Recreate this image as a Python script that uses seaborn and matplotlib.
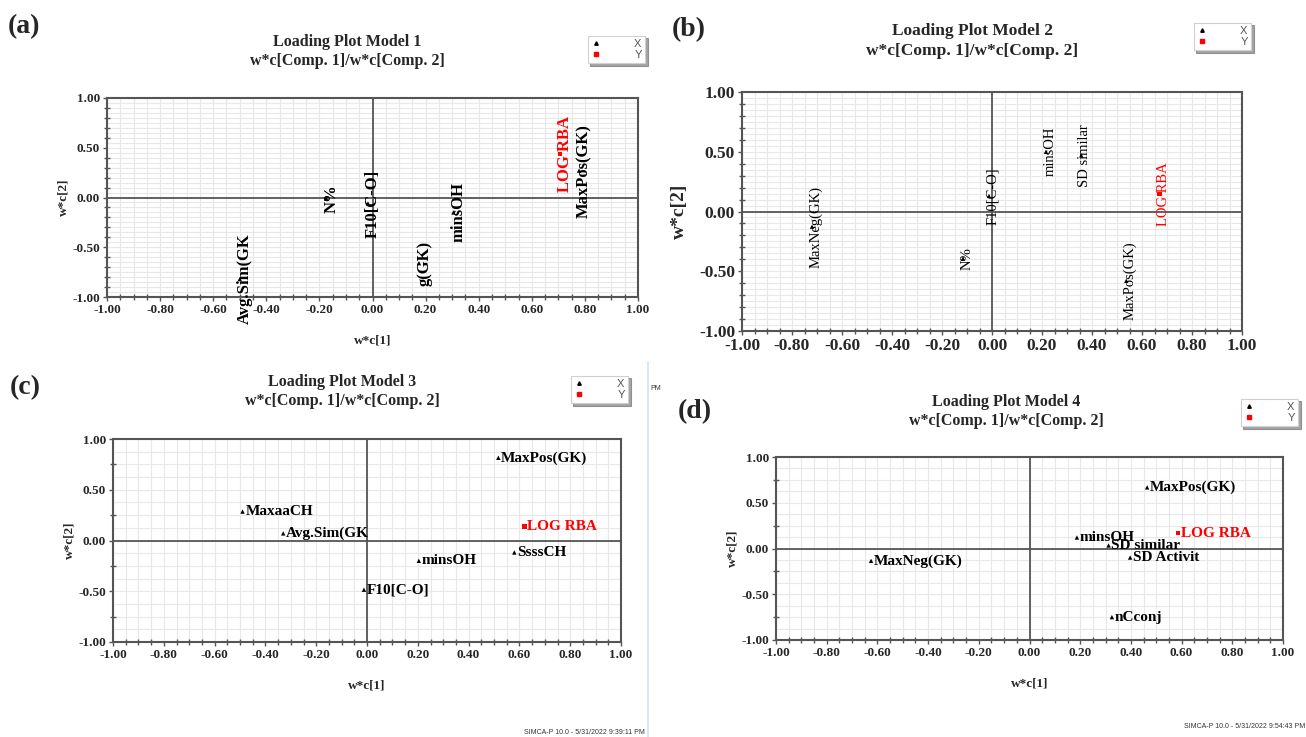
import matplotlib
matplotlib.use("Agg")
import pandas as pd
import matplotlib.pyplot as plt
import seaborn as sns
from matplotlib.lines import Line2D
from matplotlib.ticker import MultipleLocator

# Model 1
m1_names = ['Avg.Sim(GK', 'N%', 'F10[C-O]', 'g(GK)', 'minsOH', 'MaxPos(GK)', 'LOG RBA']
m1_x = [-0.50, -0.175, -0.017, 0.175, 0.305, 0.778, 0.706]
m1_y = [-0.82, -0.01, -0.06, -0.66, -0.15, 0.27, 0.44]
m1_kind = ['X', 'X', 'X', 'X', 'X', 'X', 'Y']

# Model 2
m2_names = ['MaxNeg(GK)', 'N%', 'F10[C-O]', 'minsOH', 'SD similar', 'MaxPos(GK)', 'LOG RBA']
m2_x = [-0.72, -0.116, -0.012, 0.216, 0.357, 0.537, 0.67]
m2_y = [-0.127, -0.395, 0.13, 0.50, 0.47, -0.58, 0.144]
m2_kind = ['X', 'X', 'X', 'X', 'X', 'X', 'Y']

# Model 3
m3_names = ['MaxPos(GK)', 'MaxaaCH', 'Avg.Sim(GK', 'minsOH', 'SsssCH', 'F10[C-O]', 'LOG RBA']
m3_x = [0.517, -0.49, -0.33, 0.204, 0.58, -0.012, 0.62]
m3_y = [0.815, 0.285, 0.07, -0.20, -0.118, -0.485, 0.137]
m3_kind = ['X', 'X', 'X', 'X', 'X', 'X', 'Y']

# Model 4
m4_names = ['MaxPos(GK)', 'minsOH', 'SD similar', 'SD Activit', 'MaxNeg(GK)', 'nCconj', 'LOG RBA']
m4_x = [0.464, 0.187, 0.312, 0.397, -0.625, 0.325, 0.586]
m4_y = [0.668, 0.12, 0.033, -0.099, -0.135, -0.75, 0.168]
m4_kind = ['X', 'X', 'X', 'X', 'X', 'X', 'Y']

W, H = 1306, 737
sns.set_style('white')
plt.rcParams['font.family'] = ['Liberation Serif', 'DejaVu Serif']

fig = plt.figure(figsize=(W / 100, H / 100), dpi=100)


def px_rect(x0, x1, ytop, ybot):
    return [x0 / W, 1 - ybot / H, (x1 - x0) / W, (ybot - ytop) / H]


def draw_panel(rect, names, xs, ys, kinds, rotated, tick_fs, lab_fs, txt_fs,
               txt_weight, ygrid, yminor, xlabel=True, ypad=2):
    ax = fig.add_axes(rect)
    df = pd.DataFrame({'x': xs, 'y': ys, 'kind': kinds, 'name': names})
    ax.set_xlim(-1, 1)
    ax.set_ylim(-1, 1)
    ax.xaxis.set_minor_locator(MultipleLocator(0.05))
    ax.yaxis.set_minor_locator(MultipleLocator(yminor))
    ax.set_xticks([-1 + 0.2 * i for i in range(11)])
    ax.set_yticks([-1, -0.5, 0, 0.5, 1])
    ax.set_xticklabels(['%.2f' % (-1 + 0.2 * i) for i in range(11)])
    ax.set_yticklabels(['-1.00', '-0.50', '0.00', '0.50', '1.00'])
    for v in [-1 + 0.05 * i for i in range(41)]:
        ax.axvline(v, color='#e8e8e8', lw=0.8, zorder=0)
    n = int(round(2 / ygrid))
    for i in range(n + 1):
        ax.axhline(-1 + ygrid * i, color='#e8e8e8', lw=0.8, zorder=0)
    ax.axhline(0, color='#555555', lw=1.3, zorder=1)
    ax.axvline(0, color='#555555', lw=1.3, zorder=1)
    sns.scatterplot(data=df, x='x', y='y', hue='kind', style='kind',
                    markers={'X': '^', 'Y': 's'},
                    palette={'X': 'black', 'Y': 'red'},
                    s=10, linewidth=0, legend=False, ax=ax, zorder=3)
    for _, r in df.iterrows():
        col = 'red' if r['kind'] == 'Y' else 'black'
        if rotated:
            ax.annotate(r['name'], (r['x'], r['y']), xytext=(-2, 0),
                        textcoords='offset points', rotation=90,
                        ha='left', va='center', fontsize=txt_fs,
                        fontweight=txt_weight, color=col, zorder=4,
                        annotation_clip=False)
        else:
            ax.annotate(r['name'], (r['x'], r['y']), xytext=(2, 0),
                        textcoords='offset points',
                        ha='left', va='center', fontsize=txt_fs,
                        fontweight=txt_weight, color=col, zorder=4)
    for sp in ax.spines.values():
        sp.set_color('#555555')
        sp.set_linewidth(1.5)
    ax.tick_params(which='major', direction='out', length=3, width=1,
                   color='#555555', labelsize=tick_fs, pad=2)
    ax.tick_params(which='minor', direction='inout', length=4, width=1,
                   color='#555555')
    ax.tick_params(axis='x', which='both', top=False, bottom=True)
    ax.tick_params(axis='y', which='both', right=False, left=True)
    for lab in ax.get_xticklabels() + ax.get_yticklabels():
        lab.set_fontweight('bold')
    ax.set_xlabel('w*c[1]' if xlabel else '', fontsize=lab_fs, fontweight='bold',
                  labelpad=13)
    ax.set_ylabel('w*c[2]', fontsize=lab_fs, fontweight='bold', labelpad=ypad)
    return ax


def legend_box(x0, ytop):
    handles = [Line2D([], [], marker='^', color='black', ls='none', markersize=2.5),
               Line2D([], [], marker='s', color='red', ls='none', markersize=2.5)]
    leg = fig.legend(handles, ['X', 'Y'], loc='upper left',
                     bbox_to_anchor=(x0 / W, 1 - ytop / H),
                     frameon=True, fancybox=False, shadow=True,
                     prop={'family': 'Liberation Sans', 'size': 8},
                     handletextpad=2.9, handlelength=1, labelspacing=0.1,
                     borderpad=0.3, markerfirst=True)
    leg.get_frame().set_edgecolor('#d0d0d0')
    leg.get_frame().set_linewidth(0.8)
    for t in leg.get_texts():
        t.set_color('#555555')


def titles(cx, y1, y2, model, fs):
    fig.text(cx / W, 1 - y1 / H, 'Loading Plot Model %d' % model, ha='center',
             va='center', fontsize=fs, fontweight='bold')
    fig.text(cx / W, 1 - y2 / H, 'w*c[Comp. 1]/w*c[Comp. 2]', ha='center',
             va='center', fontsize=fs, fontweight='bold')


# (a)
draw_panel(px_rect(107, 638, 98, 297), m1_names, m1_x, m1_y, m1_kind, True,
           9.5, 9.5, 12, 'bold', 0.05, 0.1)
titles(347, 42, 61, 1, 11.5)
legend_box(582, 30)
fig.text(8 / W, 1 - 27 / H, '(a)', fontsize=20, fontweight='bold', va='center')

# (b)
draw_panel(px_rect(742, 1242, 92, 331), m2_names, m2_x, m2_y, m2_kind, True,
           12.5, 14, 10.5, 'normal', 0.05, 0.1, xlabel=False, ypad=8)
titles(972, 31, 51, 2, 12.5)
legend_box(1188, 17)
fig.text(672 / W, 1 - 30 / H, '(b)', fontsize=20, fontweight='bold', va='center')

# (c)
draw_panel(px_rect(113, 621, 439, 642), m3_names, m3_x, m3_y, m3_kind, False,
           9.5, 9.5, 11, 'bold', 0.125, 0.25)
titles(342, 382, 401, 3, 11.5)
legend_box(565, 370)
fig.text(10 / W, 1 - 388 / H, '(c)', fontsize=20, fontweight='bold', va='center')
fig.text(645 / W, 1 - 732 / H, 'SIMCA-P 10.0 - 5/31/2022 9:39:11 PM', ha='right',
         va='center', fontsize=5, family='Liberation Sans', color='#333333')
fig.text(650 / W, 1 - 388 / H, 'PM', ha='left', va='center', fontsize=5,
         family='Liberation Sans', color='#333333')
fig.add_artist(Line2D([648 / W, 648 / W], [0, 1 - 362 / H], color='#cfe3f5', lw=1.2))

# (d)
draw_panel(px_rect(776, 1283, 457, 640), m4_names, m4_x, m4_y, m4_kind, False,
           9.5, 9.5, 11, 'bold', 0.125, 0.25)
titles(1006, 402, 421, 4, 11.5)
legend_box(1235, 393)
fig.text(678 / W, 1 - 412 / H, '(d)', fontsize=20, fontweight='bold', va='center')
fig.text(1305 / W, 1 - 727 / H, 'SIMCA-P 10.0 - 5/31/2022 9:54:43 PM', ha='right',
         va='center', fontsize=5, family='Liberation Sans', color='#333333')

fig.savefig('out.png', dpi=100)
